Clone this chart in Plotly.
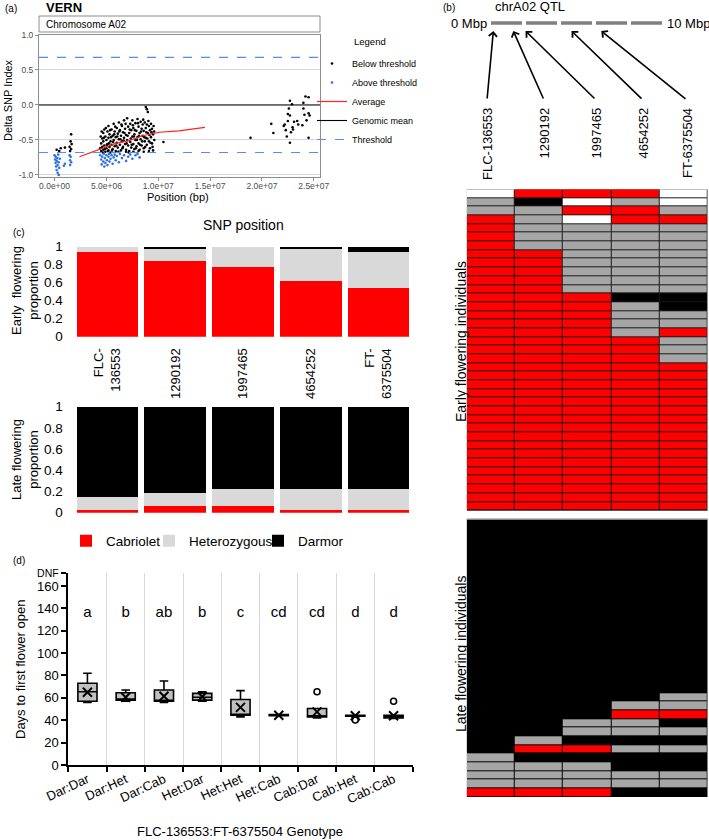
import plotly.graph_objects as go

W, H = 709, 840
FONT = "Liberation Sans, Arial, sans-serif"


def fx(px):
    return px / W


def fy(py):
    return 1 - py / H


# ---------------- Panel (a): delta SNP index ----------------
below_x = [0.2e6, 0.45e6, 0.6e6, 1.0e6, 1.45e6, 1.5e6, 1.55e6, 1.6e6, 1.6e6, 1.65e6,
           4.4e6, 4.5e6, 4.5e6, 4.6e6, 4.6e6, 4.7e6, 4.7e6, 4.7e6, 4.8e6, 4.8e6, 4.9e6, 4.9e6,
           5.0e6, 5.0e6, 5.1e6, 5.1e6, 5.2e6, 5.2e6, 5.2e6, 5.3e6, 5.3e6, 5.4e6, 5.4e6, 5.5e6,
           5.5e6, 5.6e6, 5.6e6, 5.7e6, 5.7e6, 5.8e6, 5.8e6, 5.9e6, 5.9e6, 6.0e6, 6.0e6, 6.1e6,
           6.1e6, 6.2e6, 6.2e6, 6.3e6, 6.3e6, 6.4e6, 6.4e6, 6.5e6, 6.5e6, 6.6e6, 6.6e6, 6.7e6,
           6.7e6, 6.8e6, 6.8e6, 6.9e6, 6.9e6, 7.0e6, 7.0e6, 7.1e6, 7.1e6, 7.2e6, 7.2e6, 7.3e6,
           7.3e6, 7.4e6, 7.4e6, 7.5e6, 7.5e6, 7.6e6, 7.6e6, 7.7e6, 7.7e6, 7.8e6, 7.8e6, 7.9e6,
           7.9e6, 8.0e6, 8.0e6, 8.1e6, 8.1e6, 8.2e6, 8.2e6, 8.3e6, 8.3e6, 8.4e6, 8.4e6, 8.5e6,
           8.5e6, 8.6e6, 8.6e6, 8.7e6, 8.7e6, 8.8e6, 8.8e6, 8.8e6, 8.9e6, 8.9e6, 8.9e6, 9.0e6,
           9.0e6, 9.1e6, 9.1e6, 9.2e6, 9.2e6, 9.3e6, 9.3e6, 9.4e6, 9.4e6, 9.5e6, 9.5e6, 9.6e6,
           10.5e6,
           4.45e6, 4.55e6, 4.65e6, 4.75e6, 4.85e6, 4.95e6, 5.05e6, 5.15e6, 5.25e6, 5.35e6,
           5.45e6, 5.55e6, 5.65e6, 5.75e6, 5.85e6, 5.95e6, 6.05e6, 6.15e6, 6.25e6, 6.35e6,
           6.45e6, 6.55e6, 6.65e6, 6.75e6, 6.85e6, 6.95e6, 7.05e6, 7.15e6, 7.25e6, 7.35e6,
           7.45e6, 7.55e6, 7.65e6, 7.75e6, 7.85e6, 7.95e6, 8.05e6, 8.15e6, 8.25e6, 8.35e6,
           8.45e6, 8.55e6, 8.65e6, 8.75e6, 8.85e6, 8.95e6, 9.05e6, 9.15e6, 9.25e6, 9.35e6,
           9.45e6, 9.55e6, 9.62e6, 9.1e6, 8.6e6, 8.1e6, 7.6e6, 6.9e6,
           18.9e6, 20.9e6, 21.1e6, 22.1e6, 22.2e6, 22.3e6, 22.4e6, 22.5e6, 22.5e6, 22.6e6,
           22.7e6, 22.7e6, 22.7e6, 22.8e6, 22.9e6, 22.95e6, 23.0e6, 23.1e6, 23.4e6, 23.5e6,
           23.9e6, 24.0e6, 24.0e6, 24.1e6, 24.2e6, 24.3e6, 24.5e6, 24.5e6, 24.5e6, 24.6e6]
below_y = [-0.64, -0.66, -0.62, -0.61, -0.60, -0.66, -0.52, -0.63, -0.42, -0.56,
           -0.62, -0.55, -0.66, -0.48, -0.60, -0.40, -0.52, -0.64, -0.35, -0.58, -0.45, -0.67,
           -0.50, -0.62, -0.38, -0.56, -0.30, -0.47, -0.65, -0.42, -0.60, -0.52, -0.68, -0.35,
           -0.57, -0.44, -0.63, -0.27, -0.50, -0.38, -0.59, -0.46, -0.66, -0.33, -0.54, -0.41,
           -0.61, -0.25, -0.49, -0.36, -0.57, -0.44, -0.65, -0.30, -0.52, -0.39, -0.60, -0.22,
           -0.47, -0.34, -0.56, -0.43, -0.64, -0.19, -0.50, -0.31, -0.58, -0.40, -0.66, -0.27,
           -0.53, -0.36, -0.61, -0.22, -0.45, -0.33, -0.56, -0.42, -0.63, -0.26, -0.50, -0.37,
           -0.59, -0.20, -0.46, -0.31, -0.55, -0.40, -0.64, -0.24, -0.49, -0.34, -0.58, -0.28,
           -0.44, -0.37, -0.62, -0.25, -0.52, -0.03, -0.33, -0.47, -0.06, -0.28, -0.57, -0.10,
           -0.40, -0.30, -0.52, -0.36, -0.62, -0.27, -0.46, -0.34, -0.55, -0.42, -0.65, -0.38,
           -0.53,
           -0.45, -0.38, -0.68, -0.47, -0.63, -0.33, -0.57, -0.66, -0.55, -0.36,
           -0.46, -0.65, -0.53, -0.42, -0.31, -0.58, -0.45, -0.67, -0.38, -0.49,
           -0.28, -0.62, -0.51, -0.40, -0.27, -0.55, -0.44, -0.68, -0.35, -0.48,
           -0.57, -0.29, -0.45, -0.36, -0.62, -0.50, -0.26, -0.44, -0.57, -0.38,
           -0.52, -0.21, -0.46, -0.60, -0.39, -0.48, -0.23, -0.43, -0.54, -0.39,
           -0.60, -0.30, -0.50, -0.66, -0.67, -0.66, -0.67, -0.67,
           -0.47, -0.27, -0.40, -0.30, -0.28, -0.36, -0.45, -0.23, -0.13, -0.05,
           0.06, -0.15, -0.54, -0.39, 0.01, -0.32, -0.35, -0.24, -0.23, -0.28,
           -0.29, -0.05, 0.03, -0.14, 0.12, -0.22, -0.12, 0.11, -0.47, -0.15]
above_x = [0.0e6, 0.05e6, 0.1e6, 0.1e6, 0.15e6, 0.2e6, 0.2e6, 0.25e6, 0.3e6, 0.3e6,
           0.35e6, 0.4e6, 0.4e6, 0.45e6, 0.5e6, 0.9e6, 1.0e6, 1.45e6, 1.5e6, 1.5e6,
           1.55e6, 1.6e6,
           4.4e6, 4.5e6, 4.55e6, 4.6e6, 4.7e6, 4.75e6, 4.8e6, 4.85e6, 4.9e6, 5.0e6,
           5.05e6, 5.1e6, 5.2e6, 5.25e6, 5.3e6, 5.4e6, 5.5e6, 5.6e6, 5.7e6, 5.8e6,
           5.9e6, 6.0e6, 6.2e6, 6.3e6, 6.5e6, 6.7e6, 6.9e6, 7.1e6, 7.3e6, 7.5e6,
           7.8e6, 8.0e6, 8.2e6]
above_y = [-0.72, -0.78, -0.83, -0.74, -0.88, -0.80, -0.93, -0.76, -0.86, -0.97,
           -0.71, -0.82, -1.00, -0.90, -0.77, -0.87, -0.84, -0.72, -0.79, -0.86,
           -0.74, -0.82,
           -0.72, -0.78, -0.85, -0.74, -0.81, -0.70, -0.88, -0.76, -0.83, -0.72,
           -0.79, -0.86, -0.74, -0.70, -0.81, -0.77, -0.72, -0.84, -0.75, -0.71,
           -0.79, -0.73, -0.82, -0.70, -0.76, -0.72, -0.80, -0.74, -0.71, -0.77,
           -0.72, -0.70, -0.75]
avg_x = [2.4e6, 4.6e6, 5.9e6, 7.2e6, 8.5e6, 10.1e6, 12.0e6, 14.5e6]
avg_y = [-0.74, -0.62, -0.55, -0.51, -0.44, -0.39, -0.37, -0.32]
genomic_mean = 0.0
threshold = 0.68
a_x_range = [-1.5e6, 25.6e6]
a_x_ticks = [0, 5e6, 1e7, 1.5e7, 2e7, 2.5e7]
a_x_ticktext = ["0.0e+00", "5.0e+06", "1.0e+07", "1.5e+07", "2.0e+07", "2.5e+07"]
a_y_ticks = [-1, -0.5, 0, 0.5, 1]
a_y_ticktext = ["-1.0", "-0.5", "0.0", "0.5", "1.0"]

# ---------------- Panel (b): QTL genotypes ----------------
snp_labels = ["FLC-136553", "1290192", "1997465", "4654252", "FT-6375504"]
snp_pos_mbp = [0.136553, 1.290192, 1.997465, 4.654252, 6.375504]
chrom_mbp = [0, 10]
early_rows = ["WRRRW", "GBWGW", "GGRRG", "RGWRR", "RGGGG", "RGGGG", "RGGGG",
              "RRGGG", "RRGGG", "RRGGG", "RRGGG", "RRGGG", "RRRBB", "RRRGB",
              "RRRGG", "RRRGG", "RRRGR", "RRRRG", "RRRRG", "RRRRG"] + ["RRRRR"] * 17
late_rows = ["BBBBB"] * 20 + ["BBBBG", "BBBGG", "BBBRR", "BBGGB", "BBGGG", "BGBBB",
                              "BRRGG", "GBBBB", "GGGBB", "GGGGG", "GGGGG", "RRRBB"]
code_value = {"W": 0, "R": 1, "G": 2, "B": 3}

# ---------------- Panel (c): genotype proportions ----------------
snp_ticks_c = ["FLC-<br>136553", "1290192", "1997465", "4654252", "FT-<br>6375504"]
early_cab = [0.94, 0.84, 0.77, 0.62, 0.54]
early_het = [0.06, 0.13, 0.23, 0.35, 0.40]
early_dar = [0.00, 0.03, 0.00, 0.03, 0.06]
late_cab = [0.03, 0.06, 0.06, 0.03, 0.03]
late_het = [0.12, 0.13, 0.16, 0.19, 0.19]
late_dar = [0.85, 0.81, 0.78, 0.78, 0.78]
c_y_ticks = [0, 0.2, 0.4, 0.6, 0.8, 1]
c_y_ticktext = ["0", "0.2", "0.4", "0.6", "0.8", "1"]

# ---------------- Panel (d): days to flowering ----------------
genotypes = ["Dar:Dar", "Dar:Het", "Dar:Cab", "Het:Dar", "Het:Het", "Het:Cab",
             "Cab:Dar", "Cab:Het", "Cab:Cab"]
box_low = [56, 57, 56, 57, 43, 44, 42, 43, 41.5]
box_q1 = [57, 58, 57, 58, 44.5, 44, 43, 43.5, 42]
box_med = [65.5, 59, 57.5, 60.5, 45, 44.5, 43.5, 44, 43]
box_q3 = [73, 64.5, 67, 64, 58.5, 45, 50.5, 44.5, 44.5]
box_high = [82, 67, 75, 65.5, 66.5, 45, 50.5, 44.5, 44.5]
box_mean = [65, 60.5, 61.5, 61, 51.5, 44.5, 47.5, 44, 44]
outlier_x = ["Cab:Dar", "Cab:Het", "Cab:Cab"]
outlier_y = [65.5, 40.2, 57]
letters = ["a", "b", "ab", "b", "c", "cd", "cd", "d", "d"]
letter_y = 136
d_y_ticks = [0, 20, 40, 60, 80, 100, 120, 140, 160, 172]
d_y_ticktext = ["0", "20", "40", "60", "80", "100", "120", "140", "160",
                "<span style='font-size:10.5px'>DNF</span>"]

RED = "#ff0000"
LGREY = "#d9d9d9"
HGREY = "#a6a6a6"
BLUE = "#2f6fe8"

fig = go.Figure()

# ---- (a) traces
fig.add_trace(go.Scatter(x=below_x, y=below_y, mode="markers", name="Below threshold",
                         marker=dict(color="black", size=2.6), xaxis="x", yaxis="y"))
fig.add_trace(go.Scatter(x=above_x, y=above_y, mode="markers", name="Above threshold",
                         marker=dict(color=BLUE, size=2.6), xaxis="x", yaxis="y"))
fig.add_trace(go.Scatter(x=avg_x, y=avg_y, mode="lines", name="Average",
                         line=dict(color="#ff2020", width=1.2), xaxis="x", yaxis="y"))
fig.add_trace(go.Scatter(x=a_x_range, y=[genomic_mean, genomic_mean], mode="lines",
                         name="Genomic mean", line=dict(color="black", width=1.1),
                         xaxis="x", yaxis="y"))
fig.add_trace(go.Scatter(x=[a_x_range[0], a_x_range[1], None, a_x_range[0], a_x_range[1]],
                         y=[threshold, threshold, None, -threshold, -threshold],
                         mode="lines", name="Threshold",
                         line=dict(color="#4f8ff7", width=1.2, dash="dash"),
                         xaxis="x", yaxis="y"))

# ---- (b) heatmap
z = [[code_value[c] for c in r] for r in early_rows]
z.append([None] * 5)
z += [[code_value[c] for c in r] for r in late_rows]
n_early = len(early_rows)
n_rows = len(z)
fig.add_trace(go.Heatmap(
    z=z, x=list(range(5)), y=list(range(n_rows)),
    zmin=0, zmax=3, showscale=False, xgap=1, ygap=1, hoverongaps=False,
    colorscale=[[0, "white"], [0.1667, "white"], [0.1667, RED], [0.5, RED],
                [0.5, HGREY], [0.8333, HGREY], [0.8333, "black"], [1, "black"]],
    xaxis="x2", yaxis="y2"))
fig.add_trace(go.Scatter(x=chrom_mbp, y=[0, 0], mode="lines", showlegend=False,
                         line=dict(color="#808080", width=3.5, dash="31px,4px"),
                         xaxis="x6", yaxis="y6"))

# ---- (c) stacked bars
for vals, col, name, lg in [(early_cab, RED, "Cabriolet", "legend2"),
                            (early_het, LGREY, "Heterozygous", "legend3"),
                            (early_dar, "black", "Darmor", "legend4")]:
    fig.add_trace(go.Bar(x=snp_ticks_c, y=vals, marker=dict(color=col, line=dict(width=0)),
                         name=name, legend=lg, xaxis="x3", yaxis="y3"))
for vals, col, name in [(late_cab, RED, "Cabriolet"), (late_het, LGREY, "Heterozygous"),
                        (late_dar, "black", "Darmor")]:
    fig.add_trace(go.Bar(x=snp_ticks_c, y=vals, marker=dict(color=col, line=dict(width=0)),
                         name=name, showlegend=False, xaxis="x4", yaxis="y4"))

# ---- (d) boxes
fig.add_trace(go.Box(x=genotypes, q1=box_q1, median=box_med, q3=box_q3,
                     lowerfence=box_low, upperfence=box_high, width=0.5,
                     whiskerwidth=0.45, boxpoints=False, fillcolor="#c0c0c0",
                     line=dict(color="black", width=1.6), showlegend=False,
                     xaxis="x5", yaxis="y5"))
fig.add_trace(go.Scatter(x=genotypes, y=box_mean, mode="markers", showlegend=False,
                         marker=dict(symbol="x-thin", size=9, line=dict(color="black", width=2)),
                         xaxis="x5", yaxis="y5"))
fig.add_trace(go.Scatter(x=outlier_x, y=outlier_y, mode="markers", showlegend=False,
                         marker=dict(symbol="circle-open", size=6, color="black",
                                     line=dict(width=1.6)),
                         xaxis="x5", yaxis="y5"))
fig.add_trace(go.Scatter(x=genotypes, y=[letter_y] * len(genotypes), mode="text",
                         text=letters, textfont=dict(size=15, color="black", family=FONT),
                         showlegend=False, xaxis="x5", yaxis="y5"))

# ---------------- layout ----------------
shapes = [
    dict(type="rect", xref="paper", yref="paper", x0=fx(39), x1=fx(320), y0=fy(32), y1=fy(16),
         line=dict(color="#8c8c8c", width=1), fillcolor="white"),
    dict(type="rect", xref="x2", yref="y2", x0=-0.5, x1=4.5, y0=-0.5, y1=n_early - 0.5,
         fillcolor="#1a1a1a", line=dict(width=0), layer="below"),
    dict(type="rect", xref="x2", yref="y2", x0=-0.5, x1=4.5, y0=n_early + 0.5, y1=n_rows - 0.5,
         fillcolor="black", line=dict(width=0), layer="below"),
    dict(type="line", xref="x2", yref="y2", x0=-0.5, x1=4.5, y0=n_early - 0.5, y1=n_early - 0.5,
         line=dict(color="#555", width=1)),
    dict(type="line", xref="x2", yref="y2", x0=-0.5, x1=4.5, y0=n_early + 0.5, y1=n_early + 0.5,
         line=dict(color="#888", width=1.5)),
]

ann = []


def text(px, py, s, size=13, xanchor="center", yanchor="middle", angle=0, bold=False, color="black"):
    ann.append(dict(xref="paper", yref="paper", x=fx(px), y=fy(py), text=s, showarrow=False,
                    xanchor=xanchor, yanchor=yanchor, textangle=angle,
                    font=dict(size=size, family=FONT, color=color,
                              weight="bold" if bold else "normal")))


text(3, 9, "(a)", 10, xanchor="left")
text(44, 8, "VERN", 13, xanchor="left", bold=True)
text(44, 24, "Chromosome A02", 10, xanchor="left")
text(8, 100, "Delta SNP Index", 11, angle=-90)
text(178, 197, "Position (bp)", 11)
text(352, 41, "Legend", 9.5, xanchor="left")

text(441, 8, "(b)", 10, xanchor="left")
text(530, 7, "chrA02 QTL", 13)
text(489, 23, "0 Mbp", 13, xanchor="right")
text(665, 23, "10 Mbp", 13, xanchor="left")
tails_px = [487, 544, 596, 643, 687]
for lab, tx in zip(snp_labels, tails_px):
    text(tx, 106, lab, 13, yanchor="top", angle=-90)
for pos, tx in zip(snp_pos_mbp, tails_px):
    ann.append(dict(xref="x6", yref="y6", x=pos, y=-8, axref="x6", ayref="y6",
                    ax=(tx - 491) / 17.3, ay=-77, text="", showarrow=True,
                    arrowhead=4, arrowsize=1, arrowwidth=1.6, arrowcolor="black",
                    standoff=0, startstandoff=0))
text(461, 342, "Early flowering individuals", 14, angle=-90)
text(461, 654, "Late flowering individuals", 14, angle=-90)

text(11, 232, "(c)", 10, xanchor="left")
text(243, 225, "SNP position", 14)
text(25, 291, "Early  flowering<br>proportion", 13, angle=-90)
text(25, 460, "Late flowering<br>proportion", 13, angle=-90)

text(11, 560, "(d)", 10, xanchor="left")
text(20, 670, "Days to first flower open", 13, angle=-90)
text(240, 831, "FLC-136553:FT-6375504 Genotype", 13)

tick_a = dict(size=8.5, color="#4d4d4d", family=FONT)
legend_c = dict(orientation="h", y=fy(541), xanchor="left", yanchor="middle",
                bgcolor="rgba(0,0,0,0)", font=dict(size=13.5, family=FONT))
d_top = 172
fig.update_layout(
    template="none",
    width=W, height=H, margin=dict(l=0, r=0, t=0, b=0, pad=0, autoexpand=False),
    paper_bgcolor="white", plot_bgcolor="white",
    font=dict(family=FONT, color="black"),
    barmode="stack", bargap=0.09,
    shapes=shapes, annotations=ann,
    legend=dict(x=fx(312), y=fy(49), xanchor="left", yanchor="top", traceorder="normal",
                bgcolor="rgba(0,0,0,0)", font=dict(size=9, family=FONT), tracegroupgap=0),
    legend2=dict(legend_c, x=fx(66)),
    legend3=dict(legend_c, x=fx(149)),
    legend4=dict(legend_c, x=fx(258)),
    xaxis=dict(domain=[fx(39), fx(320)], anchor="y", range=a_x_range, tickvals=a_x_ticks,
               ticktext=a_x_ticktext, showgrid=False, zeroline=False, showline=True,
               mirror=True, linecolor="#8c8c8c", ticks="outside", ticklen=3,
               tickcolor="#8c8c8c", tickfont=tick_a, ticklabelstandoff=-2, automargin=False),
    yaxis=dict(domain=[fy(177), fy(35)], anchor="x", range=[-1.03, 1.0], tickvals=a_y_ticks,
               ticktext=a_y_ticktext, showgrid=True, gridcolor="#d6d6d6", zeroline=False,
               showline=True, mirror=True, linecolor="#8c8c8c", ticks="outside", ticklen=3,
               tickcolor="#8c8c8c", tickfont=tick_a, automargin=False),
    xaxis2=dict(domain=[fx(466.7), fx(707.7)], anchor="y2", range=[-0.5, 4.5], visible=False,
                automargin=False),
    yaxis2=dict(domain=[fy(797), fy(189.3)], anchor="x2", range=[n_rows - 0.5, -0.5],
                visible=False, automargin=False),
    xaxis6=dict(domain=[fx(491), fx(664)], anchor="y6", range=[0, 10], visible=False,
                automargin=False),
    yaxis6=dict(domain=[fy(110), fy(14)], anchor="x6", range=[-87, 9], visible=False,
                automargin=False),
    xaxis3=dict(domain=[fx(73.7), fx(412.3)], anchor="y3", type="category", tickangle=-90,
                tickfont=dict(size=13, family=FONT), showline=False, showgrid=False,
                ticks="", ticklabelstandoff=8, automargin=False),
    yaxis3=dict(domain=[fy(336.7), fy(246.7)], anchor="x3", range=[0, 1], tickvals=c_y_ticks,
                ticktext=c_y_ticktext, showgrid=False, zeroline=False, ticks="",
                tickfont=dict(size=13.5, family=FONT), ticklabelstandoff=10, automargin=False),
    xaxis4=dict(domain=[fx(73.7), fx(412.3)], anchor="y4", type="category",
                showticklabels=False, showline=False, showgrid=False, ticks="",
                automargin=False),
    yaxis4=dict(domain=[fy(512.7), fy(406.7)], anchor="x4", range=[0, 1], tickvals=c_y_ticks,
                ticktext=c_y_ticktext, showgrid=False, zeroline=False, ticks="",
                tickfont=dict(size=13.5, family=FONT), ticklabelstandoff=10, automargin=False),
    xaxis5=dict(domain=[fx(68.3), fx(412.7)], anchor="y5", type="category",
                range=[-0.5, 8.5], tickson="boundaries", ticks="outside", ticklen=5,
                tickwidth=2, tickcolor="black", showline=True, linecolor="black",
                linewidth=2, showgrid=True, gridcolor="#d9d9d9", tickangle=-25,
                tickfont=dict(size=13, family=FONT), automargin=False),
    yaxis5=dict(domain=[fy(765), fy(765 - d_top * 1.119)], anchor="x5", range=[0, d_top],
                tickvals=d_y_ticks, ticktext=d_y_ticktext, ticks="outside", ticklen=5,
                tickwidth=2, tickcolor="black", showline=True, linecolor="black", linewidth=2,
                showgrid=False, zeroline=False, tickfont=dict(size=13, family=FONT),
                automargin=False),
)

fig.write_html("out.html", config={"displayModeBar": False},
               post_script="document.body.style.margin='0';document.body.style.overflow='hidden';")
